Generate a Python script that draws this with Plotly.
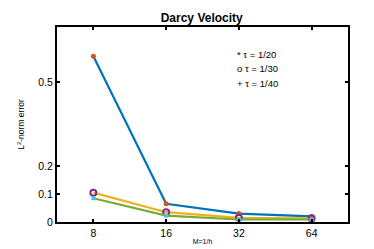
import plotly.graph_objects as go

categories = ["8", "16", "32", "64"]
x_pos = [1, 2, 3, 4]
err_tau20 = [0.593, 0.065, 0.030, 0.020]
err_tau30 = [0.105, 0.035, 0.015, 0.013]
err_tau40 = [0.085, 0.023, 0.009, 0.009]
y_ticks = [0, 0.1, 0.2, 0.5]
legend_lines = ["* τ = 1/20", "o τ = 1/30", "+ τ = 1/40"]

fig = go.Figure()
# lines then markers, MATLAB color order
fig.add_trace(go.Scatter(x=x_pos, y=err_tau20, mode="lines", line=dict(color="#0072BD", width=2.2)))
fig.add_trace(go.Scatter(x=x_pos, y=err_tau20, mode="markers",
                         marker=dict(color="#D95319", size=5, symbol="circle")))
fig.add_trace(go.Scatter(x=x_pos, y=err_tau30, mode="lines", line=dict(color="#EDB120", width=2.2)))
fig.add_trace(go.Scatter(x=x_pos, y=err_tau30, mode="markers",
                         marker=dict(color="rgba(0,0,0,0)", size=6, symbol="circle",
                                     line=dict(color="#7E2F8E", width=2))))
fig.add_trace(go.Scatter(x=x_pos, y=err_tau40, mode="lines", line=dict(color="#77AC30", width=2.2)))
fig.add_trace(go.Scatter(x=x_pos, y=err_tau40, mode="markers",
                         marker=dict(color="#4DBEEE", size=4, symbol="square")))

for i, t in enumerate(legend_lines):
    fig.add_annotation(x=0.612, y=0.86 - i * 0.075, xref="paper", yref="paper",
                       text=t, showarrow=False, xanchor="left", yanchor="middle",
                       font=dict(size=9.5, color="black"))

fig.update_layout(
    width=374, height=249,
    margin=dict(l=49, r=34, t=19, b=28),
    paper_bgcolor="white", plot_bgcolor="white",
    showlegend=False,
    font=dict(family="Liberation Sans, Arial, sans-serif", color="black"),
    title=dict(text="<b>Darcy Velocity</b>", x=0.518, xanchor="center", y=0.96, yanchor="middle",
               font=dict(size=12, color="black")),
    xaxis=dict(range=[0.5, 4.5], tickvals=x_pos, ticktext=categories,
               showline=True, linecolor="black", linewidth=2, mirror="ticks",
               ticks="inside", ticklen=3, tickwidth=2, tickcolor="black",
               showgrid=False, zeroline=False, tickfont=dict(size=10.5),
               title=dict(text="M=1/h", font=dict(size=7), standoff=2)),
    yaxis=dict(range=[0, 0.698], tickvals=y_ticks, ticktext=["0", "0.1", "0.2", "0.5"],
               showline=True, linecolor="black", linewidth=2, mirror="ticks",
               ticks="inside", ticklen=3, tickwidth=2, tickcolor="black",
               showgrid=False, zeroline=False, tickfont=dict(size=10.5),
               title=dict(text="L<sup>2</sup>-norm error", font=dict(size=8.5), standoff=12)),
)

fig.write_html("out.html")
